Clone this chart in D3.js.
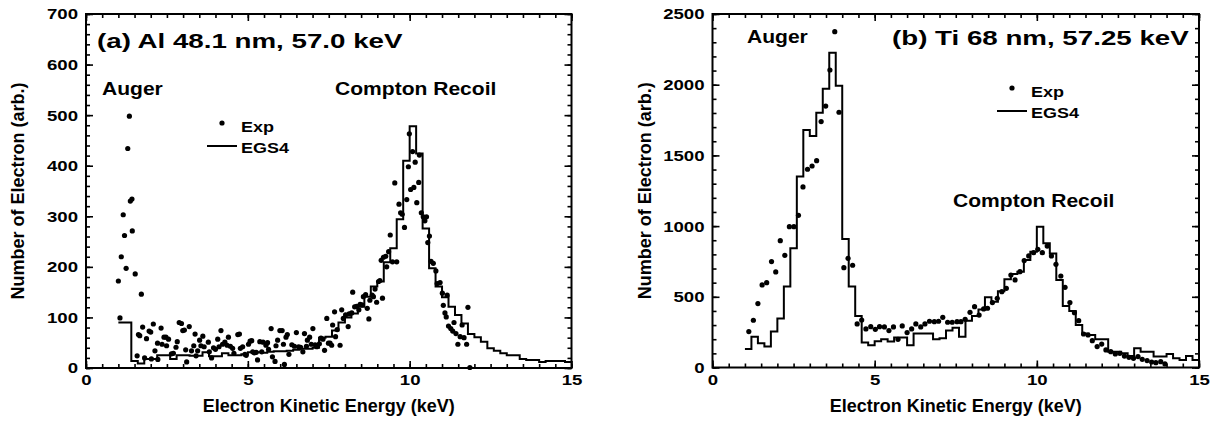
<!DOCTYPE html>
<html>
<head>
<meta charset="utf-8">
<script src="https://cdn.jsdelivr.net/npm/d3@7"></script>
<style>
  body { margin: 0; background: #fff; }
  text { font-family: "Liberation Sans", Arial, sans-serif; font-weight: bold; fill: #000; }
</style>
</head>
<body>
<script>
'use strict'

// EGS4 histograms: [bin start (keV), counts], bins 0.2 keV wide
var alHist = [[1.0,90],[1.2,90],[1.4,14],[1.6,9],[1.8,18],[2.0,18],[2.2,25],[2.4,25],[2.6,18],[2.8,25],
  [3.0,25],[3.2,24],[3.4,24],[3.6,31],[3.8,23],[4.0,23],[4.2,29],[4.4,25],[4.6,25],[4.8,27],
  [5.0,31],[5.2,31],[5.4,30],[5.6,32],[5.8,33],[6.0,33],[6.2,34],[6.4,36],[6.6,38],[6.8,38],
  [7.0,40],[7.2,60],[7.4,62],[7.6,74],[7.8,90],[8.0,100],[8.2,108],[8.4,121],[8.6,141],[8.8,161],
  [9.0,171],[9.2,209],[9.4,237],[9.6,294],[9.8,410],[10.0,478],[10.2,424],[10.4,276],[10.6,197],[10.8,161],
  [11.0,140],[11.2,121],[11.4,105],[11.6,88],[11.8,67],[12.0,61],[12.2,52],[12.4,39],[12.6,34],[12.8,29],
  [13.0,25],[13.2,25],[13.4,18],[13.6,16],[13.8,16],[14.0,12],[14.2,14],[14.4,14],[14.6,14],[14.8,12]]

var tiHist = [[1.0,131],[1.2,218],[1.4,171],[1.6,148],[1.8,254],[2.0,346],[2.2,572],[2.4,843],[2.6,1350],[2.8,1680],
  [3.0,1637],[3.2,1802],[3.4,1972],[3.6,2226],[3.8,1993],[4.0,909],[4.2,572],[4.4,364],[4.6,176],[4.8,157],
  [5.0,185],[5.2,199],[5.4,183],[5.6,213],[5.8,213],[6.0,157],[6.2,240],[6.4,240],[6.6,240],[6.8,199],
  [7.0,206],[7.2,261],[7.4,282],[7.6,218],[7.8,330],[8.0,365],[8.2,410],[8.4,496],[8.6,465],[8.8,540],
  [9.0,624],[9.2,661],[9.4,678],[9.6,760],[9.8,819],[10.0,996],[10.2,878],[10.4,807],[10.6,619],[10.8,435],
  [11.0,400],[11.2,300],[11.4,240],[11.6,230],[11.8,199],[12.0,199],[12.2,112],[12.4,112],[12.6,100],[12.8,81],
  [13.0,136],[13.2,112],[13.4,112],[13.6,77],[13.8,77],[14.0,96],[14.2,65],[14.4,53],[14.6,81],[14.8,53]]

// measured points: [energy (keV), counts]
var alExp = [[1.00,172],[1.05,99],[1.09,220],[1.15,303],[1.19,262],[1.24,197],[1.29,434],[1.34,498],[1.37,330],
  [1.42,334],[1.43,271],[1.52,186],[1.71,146],
  [1.58,24],[1.62,66],[1.66,64],[1.75,81],[1.81,20],[1.87,58],[1.95,73],[2.00,71],[2.02,18],[2.08,87],[2.13,34],
  [2.21,49],[2.22,17],[2.32,79],[2.35,47],[2.41,61],[2.47,61],[2.49,44],[2.55,57],[2.64,28],[2.70,29],[2.78,41],
  [2.82,52],[2.88,90],[2.95,88],[2.99,74],[3.04,75],[3.08,36],[3.11,12],[3.19,82],[3.26,34],[3.33,44],[3.37,67],
  [3.40,24],[3.45,34],[3.51,55],[3.55,44],[3.61,63],[3.65,42],[3.78,51],[3.81,32],[3.88,20],[3.94,40],[4.00,37],
  [4.07,57],[4.11,42],[4.17,74],[4.22,47],[4.29,51],[4.36,45],[4.40,61],[4.46,43],[4.53,39],[4.57,29],[4.69,66],
  [4.74,67],[4.77,39],[4.84,42],[4.91,27],[4.95,25],[5.02,47],[5.07,53],[5.12,54],[5.15,32],[5.20,30],[5.26,31],
  [5.30,16],[5.37,52],[5.43,32],[5.47,51],[5.56,45],[5.61,50],[5.64,37],[5.72,78],[5.76,22],[5.84,13],[5.87,44],
  [5.92,55],[5.99,74],[6.06,74],[6.10,47],[6.13,7],[6.18,61],[6.22,66],[6.27,27],[6.36,46],[6.44,43],[6.50,70],
  [6.57,42],[6.63,41],[6.70,32],[6.75,68],[6.81,43],[6.84,55],[6.91,61],[6.96,47],[7.01,78],[7.08,46],[7.13,42],
  [7.21,48],[7.26,59],[7.32,57],[7.37,35],[7.44,98],[7.49,49],
  [7.54,49],[7.59,45],[7.62,85],[7.68,111],[7.71,62],[7.76,76],[7.85,45],[7.90,115],[7.95,98],[8.02,105],
  [8.10,82],[8.13,107],[8.21,109],[8.24,150],[8.30,121],[8.36,122],[8.43,115],[8.47,126],[8.53,125],[8.57,141],
  [8.64,145],[8.69,118],[8.74,97],[8.77,134],[8.84,144],[8.88,141],[8.93,156],[8.98,130],[9.04,171],[9.08,173],
  [9.12,213],[9.16,138],[9.19,219],[9.26,221],[9.29,200],[9.35,230],[9.40,263],[9.47,210],[9.54,366],[9.60,210],
  [9.67,324],[9.72,307],[9.77,304],[9.84,278],[9.91,333],[9.96,398],[9.99,463],[10.03,353],[10.09,428],[10.13,357],
  [10.17,407],[10.22,327],[10.28,367],[10.30,421],[10.36,307],[10.42,299],[10.47,291],[10.52,299],[10.56,248],
  [10.61,261],[10.66,211],[10.73,207],[10.81,192],[10.85,167],[10.94,169],[11.01,148],[11.04,124],[11.09,109],
  [11.13,101],[11.16,144],[11.20,83],[11.27,78],[11.33,73],[11.37,90],[11.43,68],[11.49,47],[11.56,62],[11.62,85],
  [11.68,60],[11.76,47],[11.80,120],[11.86,1]]

var tiExp = [[1.12,254],[1.26,334],[1.40,452],[1.53,584],[1.67,600],[1.82,749],[1.95,676],[2.09,897],[2.23,793],
  [2.37,996],[2.51,996],[2.65,1076],[2.79,1277],[2.93,1402],[3.07,1425],[3.21,1463],[3.35,1739],[3.49,1849],
  [3.62,2104],[3.77,2375],[3.90,1805],[4.05,706],[4.18,772],[4.32,723],[4.46,308],[4.60,336],[4.73,273],[4.88,289],
  [5.02,270],[5.15,289],[5.30,287],[5.44,261],[5.58,287],[5.72,199],[5.85,294],[6.00,247],[6.14,273],[6.27,308],
  [6.42,287],[6.55,308],[6.69,327],[6.84,324],[6.97,327],[7.10,355],[7.25,320],[7.39,320],[7.54,324],[7.66,324],
  [7.79,341],[7.94,390],[8.08,430],[8.22,371],[8.36,414],[8.48,419],[8.63,459],[8.78,489],[8.92,536],[9.06,560],
  [9.20,654],[9.33,619],[9.48,678],[9.61,756],[9.75,789],[9.90,812],[10.03,836],[10.17,812],[10.32,859],[10.45,789],
  [10.59,730],[10.74,647],[10.87,567],[11.02,459],[11.16,388],[11.29,331],[11.44,237],[11.58,230],[11.71,190],
  [11.86,148],[12.00,166],[12.13,124],[12.28,112],[12.42,96],[12.56,100],[12.70,81],[12.84,72],[12.98,65],
  [13.12,77],[13.25,58],[13.40,49],[13.54,39],[13.67,34],[13.82,41],[13.95,25]]

var xTicks = [0, 5, 10, 15]
var alYTicks = [0, 100, 200, 300, 400, 500, 600, 700]
var tiYTicks = [0, 500, 1000, 1500, 2000, 2500]
var histEnd = 15.0

var panels = [
  { left: 86, right: 571.5, top: 14, bottom: 368, yMax: 700, yTicks: alYTicks, yMinor: 20,
    hist: alHist, exp: alExp, yTitleX: 18,
    title: '(a) Al 48.1 nm, 57.0 keV', titlePos: [97, 48],
    notes: [['Auger', 102, 95], ['Compton Recoil', 335, 95]],
    legend: [222, 123] },
  { left: 712.5, right: 1199, top: 14, bottom: 367.5, yMax: 2500, yTicks: tiYTicks, yMinor: 100,
    hist: tiHist, exp: tiExp, yTitleX: 645,
    title: '(b) Ti 68 nm, 57.25 keV', titlePos: [892, 45],
    notes: [['Auger', 747, 43], ['Compton Recoil', 953, 207]],
    legend: [1012, 88] }
]

var svg = d3.select('body').append('svg')
  .attr('width', 1221)
  .attr('height', 423)

// wide bold lettering, as in the original figure
function label (g, x, y, txt, size, sx, anchor) {
  return g.append('text')
    .attr('transform', 'translate(' + x + ',' + y + ') scale(' + sx + ',1)')
    .attr('font-size', size)
    .attr('text-anchor', anchor || 'start')
    .text(txt)
}

panels.forEach(function (p) {
  var g = svg.append('g')
  var x = d3.scaleLinear().domain([0, 15]).range([p.left, p.right])
  var y = d3.scaleLinear().domain([0, p.yMax]).range([p.bottom, p.top])

  // minor ticks, all four sides, pointing inward
  var xMinor = d3.range(0, 15.001, 0.5)
  var yMinor = d3.range(0, p.yMax + 0.001, p.yMinor)
  g.append('g').attr('transform', 'translate(0,' + p.bottom + ')')
    .call(d3.axisBottom(x).tickValues(xMinor).tickSize(-4).tickFormat(''))
  g.append('g').attr('transform', 'translate(0,' + p.top + ')')
    .call(d3.axisTop(x).tickValues(xMinor).tickSize(-4).tickFormat(''))
  g.append('g').attr('transform', 'translate(' + p.left + ',0)')
    .call(d3.axisLeft(y).tickValues(yMinor).tickSize(-4).tickFormat(''))
  g.append('g').attr('transform', 'translate(' + p.right + ',0)')
    .call(d3.axisRight(y).tickValues(yMinor).tickSize(-4).tickFormat(''))

  // major ticks with labels
  g.append('g').attr('class', 'xl').attr('transform', 'translate(0,' + p.bottom + ')')
    .call(d3.axisBottom(x).tickValues(xTicks).tickSize(-7).tickPadding(6).tickFormat(d3.format('d')))
  g.append('g').attr('transform', 'translate(0,' + p.top + ')')
    .call(d3.axisTop(x).tickValues(xTicks).tickSize(-7).tickFormat(''))
  g.append('g').attr('class', 'yl').attr('transform', 'translate(' + p.left + ',0)')
    .call(d3.axisLeft(y).tickValues(p.yTicks).tickSize(-7).tickPadding(8).tickFormat(d3.format('d')))
  g.append('g').attr('transform', 'translate(' + p.right + ',0)')
    .call(d3.axisRight(y).tickValues(p.yTicks).tickSize(-7).tickFormat(''))

  g.selectAll('.domain').remove()
  g.selectAll('.tick line').attr('stroke', '#000').attr('stroke-width', 1.6)
  g.selectAll('.tick text')
    .attr('font-size', 15.5)
    .attr('font-family', '"Liberation Sans", Arial, sans-serif')
    .attr('font-weight', 'bold')
    .attr('fill', '#000')
  var sx = 1.2
  g.selectAll('.xl .tick text').attr('transform', 'scale(' + sx + ',1)')
  g.selectAll('.yl .tick text').each(function () {
    var t = d3.select(this)
    t.attr('x', +t.attr('x') / sx).attr('transform', 'scale(' + sx + ',1)')
  })

  // frame
  g.append('rect')
    .attr('x', p.left).attr('y', p.top)
    .attr('width', p.right - p.left).attr('height', p.bottom - p.top)
    .attr('fill', 'none').attr('stroke', '#000').attr('stroke-width', 2)

  // EGS4 histogram
  var steps = p.hist.concat([[histEnd, p.hist[p.hist.length - 1][1]]])
  g.append('path')
    .datum(steps)
    .attr('fill', 'none')
    .attr('stroke', '#000')
    .attr('stroke-width', 2)
    .attr('d', d3.line().curve(d3.curveStepAfter)
      .x(function (d) { return x(d[0]) })
      .y(function (d) { return y(d[1]) }))

  // experiment
  g.selectAll('circle.exp')
    .data(p.exp)
    .enter().append('circle')
    .attr('class', 'exp')
    .attr('cx', function (d) { return x(d[0]) })
    .attr('cy', function (d) { return y(d[1]) })
    .attr('r', 2.6)
    .attr('fill', '#000')

  // axis titles
  label(g, (p.left + p.right) / 2, 412, 'Electron Kinetic Energy (keV)', 18, 1.0, 'middle')
  g.append('text')
    .attr('transform', 'translate(' + (p.yTitleX + 6) + ',' + ((p.top + p.bottom) / 2) + ') rotate(-90)')
    .attr('font-size', 18)
    .attr('text-anchor', 'middle')
    .text('Number of Electron (arb.)')

  // annotations
  label(g, p.titlePos[0], p.titlePos[1], p.title, 21, 1.32)
  p.notes.forEach(function (n) { label(g, n[1], n[2], n[0], 18, 1.17) })

  // legend
  var lx = p.legend[0], ly = p.legend[1]
  g.append('circle').attr('cx', lx).attr('cy', ly).attr('r', 2.6).attr('fill', '#000')
  label(g, lx + 19, ly + 9, 'Exp', 15, 1.2)
  g.append('line')
    .attr('x1', lx - 15).attr('x2', lx + 15)
    .attr('y1', ly + 23).attr('y2', ly + 23)
    .attr('stroke', '#000').attr('stroke-width', 2)
  label(g, lx + 19, ly + 30, 'EGS4', 15, 1.2)
})
</script>
</body>
</html>
